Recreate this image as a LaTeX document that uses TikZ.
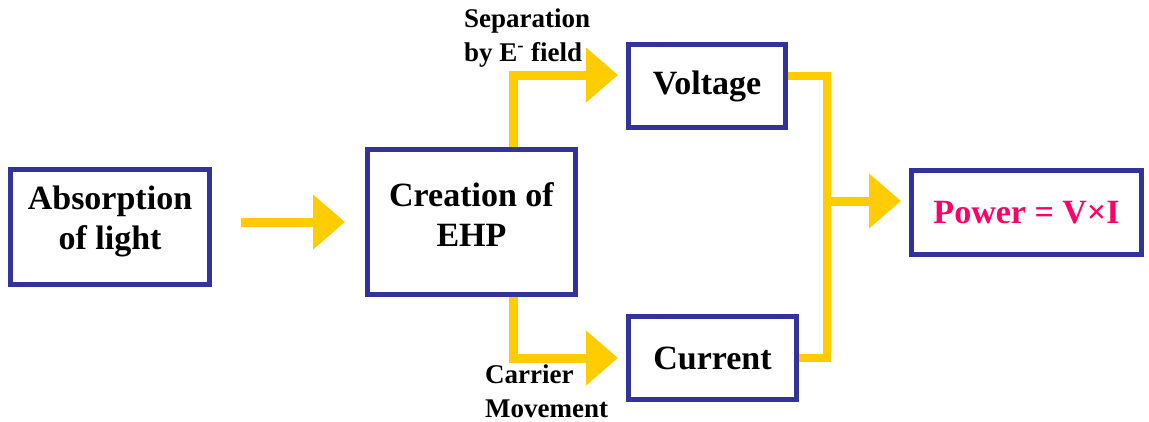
\documentclass[tikz,border=0pt]{standalone}
\usepackage{fontspec}
\setmainfont{Liberation Serif}
\usetikzlibrary{arrows.meta,calc}
\definecolor{boxblue}{HTML}{333399}
\definecolor{arryellow}{HTML}{FFCC00}
\definecolor{powpink}{HTML}{FF0066}
\begin{document}
\begin{tikzpicture}[x=1pt,y=-1pt,
  blk/.style={draw=boxblue,line width=5pt,fill=white,align=center,inner sep=0pt,
    font=\fontsize{34}{40}\selectfont\bfseries},
  lbl/.style={align=left,inner sep=0pt,font=\fontsize{27}{34}\selectfont\bfseries},
  arr/.style={draw=arryellow,line width=9pt,-{Triangle[width=53pt,length=32pt]}},
  conn/.style={draw=arryellow,line width=8pt}]
\useasboundingbox (0,0) rectangle (1149,421);
\node[blk,minimum width=199pt,minimum height=115pt,text depth=19pt] (abs) at (110,227) {Absorption\\of light};
\node[blk,minimum width=208pt,minimum height=145pt,text depth=14pt] (ehp) at (471.5,222) {Creation of\\EHP};
\node[blk,minimum width=157pt,minimum height=83pt] (volt) at (707,86) {Voltage};
\node[blk,minimum width=168pt,minimum height=83pt] (curr) at (712.5,358) {Current};
\node[blk,minimum width=230pt,minimum height=84pt,text=powpink] (pow) at (1026.5,212.5) {Power = V\texttimes I};
\coordinate (jt) at (827,76);
\coordinate (jm) at (827,201);
\coordinate (jb) at (827,358);
\draw[arr] ([xshift=29pt]abs.east |- ehp.west) -- ([xshift=-20pt]ehp.west);
\draw[arr] ([xshift=41.5pt]ehp.north) |- ([xshift=-8pt,yshift=11pt]volt.west);
\draw[arr] ([xshift=41.5pt]ehp.south) |- ([xshift=-8pt]curr.west);
\draw[conn] ([yshift=10pt]volt.east) -- (jt) -- (jb) -- (curr.east);
\draw[arr] (jm) -- ([xshift=-8pt,yshift=11.5pt]pow.west);
\node[lbl,anchor=base west] (sep) at (464,61) {Separation\\by E\textsuperscript{-} field};
\node[lbl,anchor=base west] (car) at (485,417) {Carrier\\Movement};
\end{tikzpicture}
\end{document}
